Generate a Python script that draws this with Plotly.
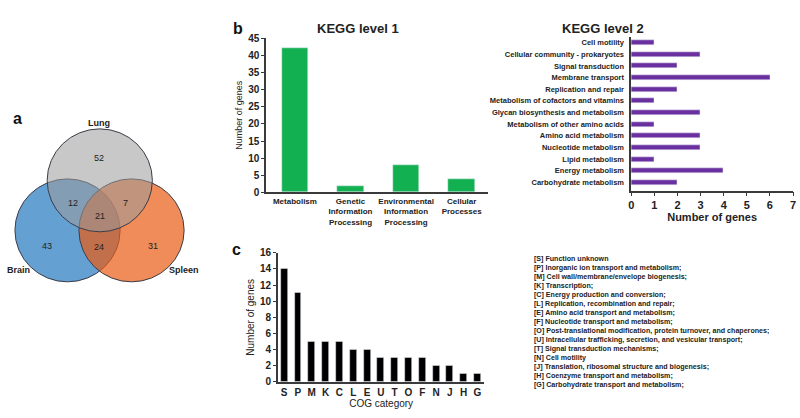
import plotly.graph_objects as go

W, H = 800, 418
FONT = "Liberation Sans"

# ---------------- data ----------------
venn_sets = ["Lung", "Brain", "Spleen"]
venn_counts = {"Lung": 52, "Brain": 43, "Spleen": 31,
               "Lung&Brain": 12, "Lung&Spleen": 7, "Brain&Spleen": 24, "All": 21}

kegg1_cats = ["Metabolism", "Genetic Information Processing",
              "Environmental Information Processing", "Cellular Processes"]
kegg1_labels = ["Metabolism", "Genetic<br>Information<br>Processing",
                "Environmental<br>Information<br>Processing", "Cellular<br>Processes"]
kegg1_vals = [42, 2, 8, 4]

kegg2_cats = ["Cell motility", "Cellular community - prokaryotes", "Signal transduction",
              "Membrane transport", "Replication and repair",
              "Metabolism of cofactors and vitamins", "Glycan biosynthesis and metabolism",
              "Metabolism of other amino acids", "Amino acid metabolism",
              "Nucleotide metabolism", "Lipid metabolism", "Energy metabolism",
              "Carbohydrate metabolism"]
kegg2_vals = [1, 3, 2, 6, 2, 1, 3, 1, 3, 3, 1, 4, 2]

cog_cats = ["S", "P", "M", "K", "C", "L", "E", "U", "T", "O", "F", "N", "J", "H", "G"]
cog_vals = [14, 11, 5, 5, 5, 4, 4, 3, 3, 3, 3, 2, 2, 1, 1]
cog_desc = [
    "[S] Function unknown",
    "[P] Inorganic ion transport and metabolism;",
    "[M] Cell wall/membrane/envelope biogenesis;",
    "[K] Transcription;",
    "[C] Energy production and conversion;",
    "[L] Replication, recombination and repair;",
    "[E] Amino acid transport and metabolism;",
    "[F] Nucleotide transport and metabolism;",
    "[O] Post-translational modification, protein turnover, and chaperones;",
    "[U] Intracellular trafficking, secretion, and vesicular transport;",
    "[T] Signal transduction mechanisms;",
    "[N] Cell motility",
    "[J] Translation, ribosomal structure and biogenesis;",
    "[H] Coenzyme transport and metabolism;",
    "[G] Carbohydrate transport and metabolism;",
]

# ---------------- helpers ----------------
def px(x):
    return x / W

def py(y):
    return 1 - y / H

AX = "#3a3a3a"

fig = go.Figure()

# KEGG level 1
fig.add_trace(go.Bar(x=kegg1_cats, y=kegg1_vals, marker_color="#12b050",
                     width=0.48, xaxis="x", yaxis="y", showlegend=False))
# KEGG level 2
fig.add_trace(go.Bar(y=kegg2_cats, x=kegg2_vals, orientation="h",
                     marker_color="#6b30a0", width=0.42, xaxis="x2", yaxis="y2",
                     showlegend=False))
# COG
fig.add_trace(go.Bar(x=cog_cats, y=cog_vals, marker_color="#000000",
                     width=0.5, xaxis="x3", yaxis="y3", showlegend=False))

bold = dict(family=FONT, color="#222", weight="bold")

layout = dict(
    width=W, height=H, margin=dict(l=0, r=0, t=0, b=0),
    paper_bgcolor="white", plot_bgcolor="rgba(0,0,0,0)",
    font=dict(family=FONT, color="#222"),
    bargap=0,
    xaxis=dict(domain=[px(265), px(489)], range=[-0.52, 3.48], anchor="y",
               showline=True, linecolor=AX, linewidth=1.5, ticks="",
               tickvals=kegg1_cats, ticktext=kegg1_labels,
               tickfont=dict(size=8, **bold), showgrid=False, zeroline=False),
    yaxis=dict(domain=[py(192), py(33)], range=[0, 45], anchor="x",
               showline=True, linecolor=AX, linewidth=1.5, ticks="outside",
               ticklen=3, tickcolor=AX, dtick=5, tickfont=dict(size=10, **bold),
               showgrid=False, zeroline=False,
               title=dict(text="Number of genes", font=dict(size=9, family=FONT, color="#222"),
                          standoff=4)),
    xaxis2=dict(domain=[px(633), px(796)], range=[0, 7], anchor="y2",
                showline=True, linecolor=AX, linewidth=1.5, ticks="outside",
                ticklen=4, tickcolor=AX, dtick=1, tickfont=dict(size=11, **bold),
                showgrid=False, zeroline=False,
                title=dict(text="Number of genes", font=dict(size=11, **bold), standoff=3)),
    yaxis2=dict(domain=[py(190), py(32)], range=[12.69, -0.47], anchor="x2",
                showline=True, linecolor=AX, linewidth=1.5, ticks="",
                tickfont=dict(size=7.5, **bold), showgrid=False, zeroline=False,
                ticklabelstandoff=4),
    xaxis3=dict(domain=[px(277), px(485)], range=[-0.45, 14.5], anchor="y3",
                showline=True, linecolor=AX, linewidth=1.5, ticks="",
                tickfont=dict(size=10, **bold), showgrid=False, zeroline=False,
                title=dict(text="COG category", font=dict(size=10, family=FONT, color="#222"),
                           standoff=2)),
    yaxis3=dict(domain=[py(387), py(254)], range=[0, 16], anchor="x3",
                showline=True, linecolor=AX, linewidth=1.5, ticks="outside",
                ticklen=3, tickcolor=AX, dtick=2, tickfont=dict(size=10, **bold),
                showgrid=False, zeroline=False,
                title=dict(text="Number of genes", font=dict(size=10, family=FONT, color="#222"),
                           standoff=4)),
    xaxis4=dict(domain=[0, px(200)], range=[0, 200], anchor="y4", visible=False,
                fixedrange=True),
    yaxis4=dict(domain=[py(300), py(80)], range=[300, 80], anchor="x4", visible=False,
                fixedrange=True),
)
fig.update_layout(**layout)

# ---------------- Venn diagram ----------------
R = 53
centers = {"Brain": (65, 231), "Spleen": (129.5, 231), "Lung": (97.5, 179.5)}
fills = {"Brain": "rgba(34,119,191,0.7)", "Spleen": "rgba(234,91,19,0.7)",
         "Lung": "rgba(155,155,155,0.55)"}
shapes = []
for name in ["Brain", "Spleen", "Lung"]:
    cx, cy = centers[name]
    shapes.append(dict(type="circle", xref="x4", yref="y4",
                       x0=cx - R, x1=cx + R, y0=cy - R, y1=cy + R,
                       fillcolor=fills[name], line=dict(color="#3c3c48", width=1)))
fig.update_layout(shapes=shapes)

ann = []
region_pos = {"Lung": (97, 157), "Lung&Brain": (71, 203), "Lung&Spleen": (123, 203),
              "All": (98, 216), "Brain": (44, 247), "Brain&Spleen": (97, 248),
              "Spleen": (151, 247)}
for k, (x, y) in region_pos.items():
    ann.append(dict(x=x, y=y, xref="x4", yref="y4", text=str(venn_counts[k]),
                    showarrow=False, font=dict(size=9, family=FONT, color="#222")))
label_pos = {"Lung": (97, 120), "Brain": (16, 272), "Spleen": (182, 272)}
for k, (x, y) in label_pos.items():
    ann.append(dict(x=x, y=y, xref="x4", yref="y4", text="<b>%s</b>" % k,
                    showarrow=False, font=dict(size=9, family=FONT, color="#222")))

# panel letters and titles
for t, x, y in [("a", 8, 105), ("b", 230, 12), ("c", 229, 251)]:
    ann.append(dict(x=px(x), y=py(y), xref="paper", yref="paper", text="<b>%s</b>" % t,
                    showarrow=False, font=dict(size=16, family=FONT, color="#111")))
for t, x, y in [("KEGG level 1", 358, 13), ("KEGG level 2", 648, 13)]:
    ann.append(dict(x=px(x), y=py(y), xref="paper", yref="paper", text="<b>%s</b>" % t,
                    showarrow=False, font=dict(size=13, family=FONT, color="#222")))

# COG legend text
for i, line in enumerate(cog_desc):
    ann.append(dict(x=px(533), y=py(260.5 + i * 9.3), xref="paper", yref="paper",
                    text=line, showarrow=False, xanchor="left", yanchor="middle",
                    font=dict(size=7.1, family=FONT, color="#222", weight="bold")))

fig.update_layout(annotations=ann)

fig.write_html("out.html", config={"displayModeBar": False},
               post_script="document.body.style.margin='0';document.body.style.overflow='hidden';")
